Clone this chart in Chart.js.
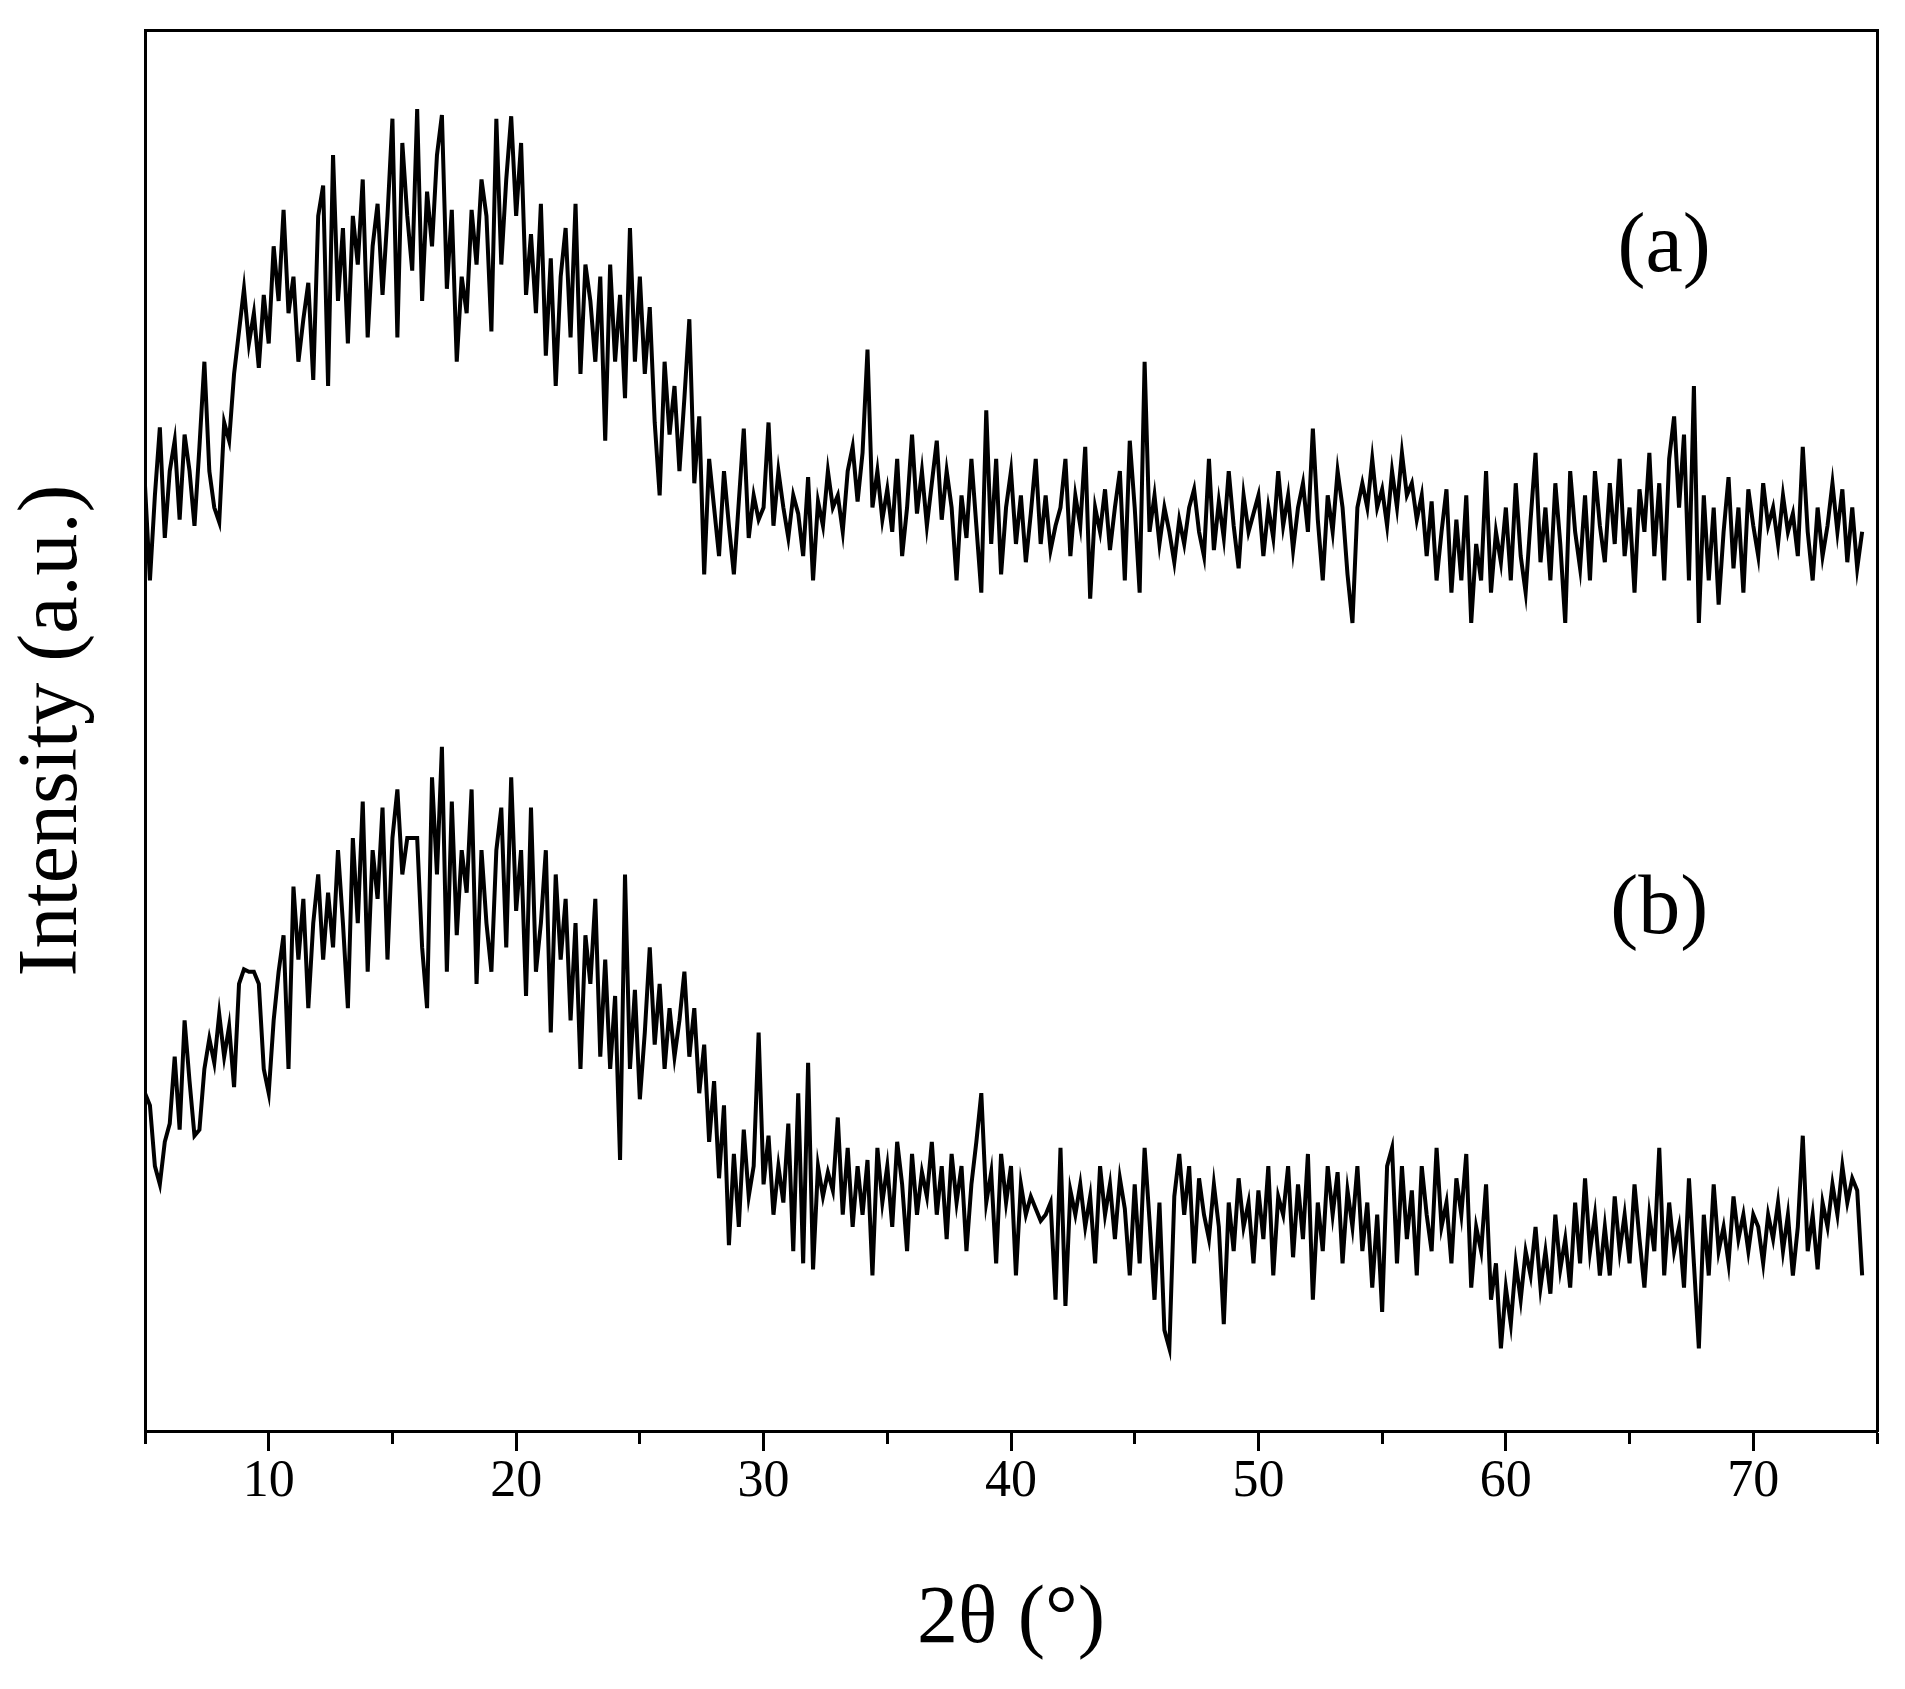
<!DOCTYPE html>
<html>
<head>
<meta charset="utf-8">
<script src="https://cdn.jsdelivr.net/npm/chart.js@4/dist/chart.umd.min.js"></script>
<style>
  body { margin: 0; background: #fff; }
  canvas { display: block; }
</style>
</head>
<body>
<canvas id="xrd" width="1905" height="1689"></canvas>
<script>
// Data: 2θ scan from 5° in 0.2° steps, intensity in arbitrary units
let startAngle = 5;
let stepAngle = 0.2;

let intensityA = [
    778, 700, 770, 826, 735,  790, 815, 750, 820, 790,
    745, 810, 880, 790, 760,  748, 830, 815, 870, 905,
    940, 895, 920, 875, 935,  895, 975, 930, 1005, 920,
    950, 880, 915, 945, 865,  1000, 1025, 860, 1050, 930,
    990, 895, 1000, 960, 1030,  900, 975, 1010, 935, 1000,
    1080, 900, 1060, 1000, 955,  1088, 930, 1020, 975, 1050,
    1083, 940, 1005, 880, 950,  920, 1005, 960, 1030, 1000,
    905, 1080, 960, 1030, 1082,  1000, 1060, 935, 985, 920,
    1010, 885, 965, 860, 950,  990, 900, 1010, 870, 960,
    930, 880, 950, 815, 960,  880, 935, 850, 990, 880,
    950, 870, 925, 830, 770,  880, 820, 860, 790, 850,
    915, 780, 835, 705, 800,  760, 720, 790, 745, 705,
    765, 825, 735, 770, 750,  760, 830, 745, 790, 760,
    735, 770, 755, 720, 785,  700, 765, 745, 790, 760,
    770, 740, 790, 810, 765,  805, 890, 760, 790, 750,
    775, 740, 800, 720, 760,  820, 755, 790, 745, 780,
    815, 750, 790, 760, 700,  770, 735, 800, 745, 690,
    840, 730, 800, 705, 760,  790, 730, 770, 715, 755,
    800, 730, 770, 725, 745,  760, 800, 720, 770, 745,
    810, 685, 760, 740, 775,  725, 760, 790, 700, 815,
    760, 690, 880, 740, 770,  730, 760, 740, 715, 750,
    730, 760, 775, 740, 720,  800, 725, 765, 735, 790,
    745, 710, 770, 740, 755,  770, 720, 760, 735, 790,
    745, 770, 725, 760, 780,  740, 825, 750, 700, 770,
    740, 790, 760, 705, 665,  760, 780, 760, 800, 760,
    775, 745, 790, 760, 805,  770, 780, 750, 770, 720,
    765, 700, 740, 775, 690,  750, 700, 770, 665, 730,
    700, 790, 690, 740, 715,  760, 700, 780, 720, 690,
    750, 805, 715, 760, 700,  780, 730, 665, 790, 740,
    710, 770, 700, 790, 745,  715, 780, 730, 800, 720,
    760, 690, 775, 740, 805,  720, 780, 700, 800, 835,
    760, 820, 700, 860, 665,  770, 700, 760, 680, 740,
    785, 710, 760, 690, 775,  745, 720, 780, 745, 760,
    730, 770, 740, 755, 720,  810, 740, 700, 760, 720,
    745, 780, 740, 775, 715,  760, 710, 740
];

let intensityB = [
    278, 268, 218, 203, 238,  253, 308, 248, 338, 288,
    243, 248, 298, 323, 303,  343, 308, 333, 283, 368,
    380, 378, 378, 368, 298,  278, 338, 378, 408, 298,
    448, 388, 438, 348, 418,  458, 388, 443, 398, 478,
    418, 348, 488, 418, 518,  378, 478, 438, 513, 388,
    488, 528, 458, 488, 488,  488, 398, 348, 538, 458,
    563, 378, 518, 408, 478,  443, 528, 368, 478, 418,
    378, 478, 513, 398, 538,  428, 478, 358, 513, 378,
    418, 478, 328, 458, 388,  438, 338, 418, 298, 408,
    368, 438, 308, 388, 298,  358, 223, 458, 298, 363,
    273, 328, 398, 318, 368,  298, 348, 308, 338, 378,
    308, 348, 278, 318, 238,  288, 208, 268, 153, 228,
    168, 248, 193, 218, 328,  203, 243, 178, 218, 188,
    253, 148, 278, 138, 303,  133, 218, 193, 213, 198,
    258, 178, 233, 168, 218,  178, 223, 128, 233, 188,
    218, 168, 238, 203, 148,  228, 178, 213, 193, 238,
    178, 218, 158, 228, 188,  218, 148, 203, 238, 278,
    188, 213, 138, 228, 188,  218, 128, 203, 178, 193,
    183, 173, 178, 188, 108,  233, 103, 198, 178, 203,
    168, 193, 138, 218, 178,  203, 158, 208, 183, 128,
    203, 138, 233, 173, 108,  188, 83, 68, 193, 228,
    178, 218, 138, 208, 178,  158, 203, 168, 88, 188,
    148, 208, 168, 188, 138,  198, 158, 218, 128, 193,
    178, 218, 143, 203, 158,  228, 108, 188, 148, 218,
    178, 213, 138, 198, 168,  218, 148, 188, 118, 178,
    98, 218, 233, 138, 218,  158, 198, 128, 218, 178,
    148, 233, 168, 188, 138,  208, 178, 228, 118, 168,
    148, 203, 108, 138, 68,  118, 88, 138, 108, 148,
    128, 168, 118, 148, 113,  178, 133, 158, 118, 188,
    138, 208, 148, 178, 128,  168, 128, 193, 148, 178,
    138, 203, 158, 118, 178,  148, 233, 128, 188, 148,
    168, 118, 208, 138, 68,  178, 128, 203, 148, 168,
    138, 193, 158, 178, 148,  178, 168, 138, 178, 158,
    188, 148, 178, 128, 168,  243, 148, 178, 133, 188,
    168, 203, 178, 218, 188,  208, 198, 128
];

let xTickLabels = [10, 20, 30, 40, 50, 60, 70];
let panelNames = ['(a)', '(b)'];

// Получение контекста
let canvas = document.getElementById('xrd');
let context = canvas.getContext('2d');

const serif = 'Liberation Serif, Times New Roman, serif';

const toPoints = (values) => values.map((v, i) => ({
    x: +(startAngle + i * stepAngle).toFixed(2),
    y: v
}));

// panel letters placed in data coordinates
const panelLabelPlugin = {
    id: 'panelLabels',
    afterDatasetsDraw(chart) {
        let ctx = chart.ctx;
        let xs = chart.scales.x;
        let ys = chart.scales.y;
        let spots = [[66.4, 973], [66.2, 428]];
        ctx.save();
        ctx.fillStyle = '#000';
        ctx.font = '84px ' + serif;
        ctx.textAlign = 'center';
        ctx.textBaseline = 'middle';
        panelNames.forEach((name, i) => {
            ctx.fillText(name, xs.getPixelForValue(spots[i][0]), ys.getPixelForValue(spots[i][1]));
        });
        ctx.restore();
    }
};

let frameSide = {
    display: true,
    ticks: { display: false },
    grid: { drawOnChartArea: false, drawTicks: false },
    border: { display: true, color: '#000', width: 3 }
};

let config = {
    type: 'line',
    data: {
        datasets: [
            {
                label: 'a',
                data: toPoints(intensityA),
                borderColor: '#000',
                borderWidth: 4,
                pointRadius: 0,
                tension: 0,
                fill: false
            }, {
                label: 'b',
                data: toPoints(intensityB),
                borderColor: '#000',
                borderWidth: 4,
                pointRadius: 0,
                tension: 0,
                fill: false
            }
        ]
    },
    options: {
        responsive: false,
        animation: false,
        events: [],
        layout: {
            padding: { left: 0, right: 28, top: 30, bottom: 15 }
        },
        scales: {
            x: {
                type: 'linear',
                position: 'bottom',
                min: 5,
                max: 75,
                afterFit: (scale) => { scale.height = 243; },
                ticks: {
                    stepSize: 5,
                    autoSkip: false,
                    maxRotation: 0,
                    padding: 0,
                    color: '#000',
                    font: { family: serif, size: 52 },
                    callback: (v) => xTickLabels.includes(v) ? String(v) : ''
                },
                grid: {
                    drawOnChartArea: false,
                    drawTicks: true,
                    tickLength: 20,
                    tickWidth: 3,
                    tickColor: '#000',
                    tickBorderDash: (c) => (c.tick && c.tick.value % 10 === 0) ? [] : [11, 100]
                },
                border: { color: '#000', width: 3 },
                title: {
                    display: true,
                    text: '2θ (°)',
                    color: '#000',
                    font: { family: serif, size: 82 },
                    padding: { top: 4, bottom: 4 }
                }
            },
            y: {
                type: 'linear',
                position: 'left',
                min: 0,
                max: 1153,
                afterFit: (scale) => { scale.width = 145; },
                ticks: { display: false },
                grid: { drawOnChartArea: false, drawTicks: false },
                border: { color: '#000', width: 3 },
                title: {
                    display: true,
                    text: 'Intensity (a.u.)',
                    color: '#000',
                    font: { family: serif, size: 84 },
                    padding: { top: 4, bottom: 4 }
                }
            },
            xTop: Object.assign({ type: 'linear', position: 'top', min: 5, max: 75 }, frameSide),
            yRight: Object.assign({ type: 'linear', position: 'right', min: 0, max: 1153 }, frameSide)
        },
        plugins: {
            legend: { display: false },
            tooltip: { enabled: false }
        }
    },
    plugins: [panelLabelPlugin]
};

let chart = new Chart(context, config);
</script>
</body>
</html>
